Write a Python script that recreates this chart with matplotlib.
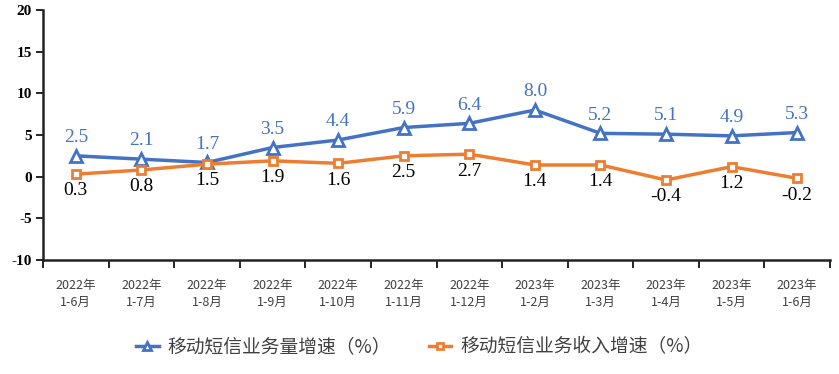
import matplotlib.pyplot as plt
import numpy as np

periods = ["2022年\n1-6月", "2022年\n1-7月", "2022年\n1-8月", "2022年\n1-9月", "2022年\n1-10月",
           "2022年\n1-11月", "2022年\n1-12月", "2023年\n1-2月", "2023年\n1-3月", "2023年\n1-4月",
           "2023年\n1-5月", "2023年\n1-6月"]
volume_growth = [2.5, 2.1, 1.7, 3.5, 4.4, 5.9, 6.4, 8.0, 5.2, 5.1, 4.9, 5.3]
revenue_growth = [0.3, 0.8, 1.5, 1.9, 1.6, 2.5, 2.7, 1.4, 1.4, -0.4, 1.2, -0.2]
yticks = [-10, -5, 0, 5, 10, 15, 20]

blue = "#4472C4"
orange = "#ED7D31"
cjk = ["Noto Sans CJK SC", "DejaVu Sans"]
serif = ["Liberation Serif", "DejaVu Serif"]

fig = plt.figure(figsize=(8.39, 3.74), dpi=100)
ax = fig.add_axes([0.0513, 0.305, 0.938, 0.668])

x = np.arange(len(periods))
ax.plot(x, volume_growth, color=blue, lw=2.5, marker="^", ms=8, mfc="white",
        mec=blue, mew=2, label="移动短信业务量增速（%）", zorder=3)
ax.plot(x, revenue_growth, color=orange, lw=2.5, marker="s", ms=5.5, mfc="white",
        mec=orange, mew=2, label="移动短信业务收入增速（%）", zorder=3)

for xi, v in zip(x, volume_growth):
    ax.annotate(f"{v:.1f}", (xi, v), xytext=(0, 7), textcoords="offset points",
                ha="center", va="bottom", color=blue, fontsize=14, family=serif)
for xi, v in zip(x, revenue_growth):
    ax.annotate(f"{v:.1f}", (xi, v), xytext=(0, -6), textcoords="offset points",
                ha="center", va="top", color="black", fontsize=14, family=serif)

ax.set_xlim(-0.5, len(periods) - 0.5)
ax.set_ylim(-10, 20)
ax.set_yticks(yticks)
ax.set_yticklabels([str(t) for t in yticks], family=serif, fontweight="bold", fontsize=11)

ax.set_xticks(np.arange(len(periods) + 1) - 0.5)
ax.set_xticklabels([])
ax.set_xticks(x, minor=True)
ax.set_xticklabels(periods, minor=True, family=cjk, fontsize=9, color="#404040", linespacing=1.4)
ax.tick_params(axis="x", which="minor", length=0, pad=14)
ax.tick_params(axis="x", which="major", length=6, width=1.2, direction="out")
ax.tick_params(axis="y", length=5, width=1.2, direction="out", pad=3)

for s in ["top", "right"]:
    ax.spines[s].set_visible(False)
for s in ["left", "bottom"]:
    ax.spines[s].set_linewidth(1.8)
    ax.spines[s].set_color("#222222")

leg = fig.legend(loc="center", bbox_to_anchor=(0.5, 0.073), ncol=2, frameon=False,
                 prop={"family": cjk, "size": 13.5}, handlelength=1.2, columnspacing=2.0,
                 handletextpad=0.5, labelcolor="#404040", markerscale=0.75)

fig.savefig("out.png", dpi=100)
